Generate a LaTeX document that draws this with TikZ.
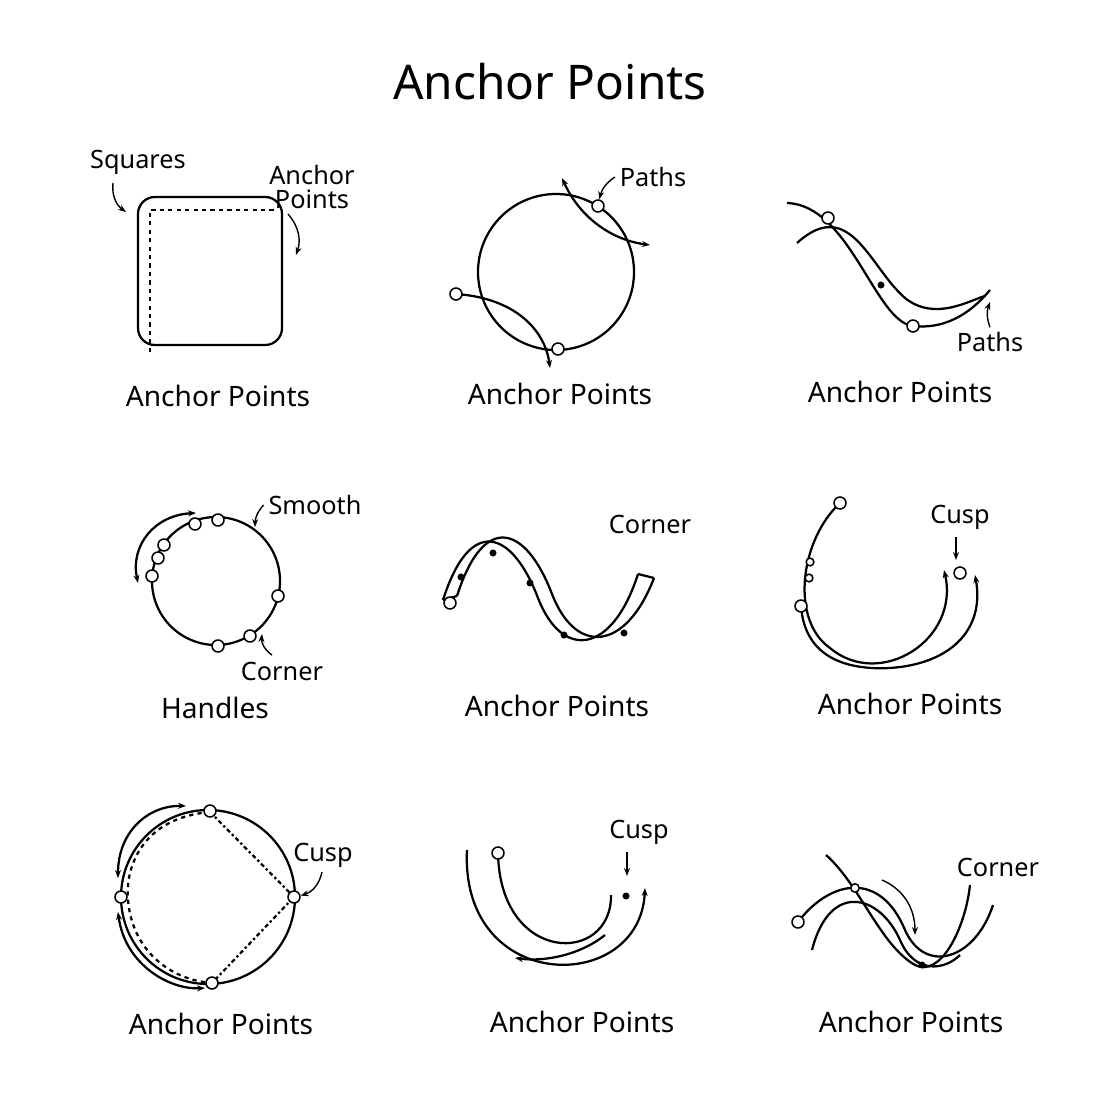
\documentclass[tikz,border=0pt]{standalone}
\usepackage{fontspec}
\setmainfont{Noto Sans}
\usetikzlibrary{arrows.meta, positioning}
\tikzset{
    stroke/.style={line width=1.6pt, black},
    anchorpt/.style={circle, draw=black, line width=1.1pt, fill=white, inner sep=0pt, minimum size=8.5pt},
    dotpt/.style={circle, fill=black, inner sep=0pt, minimum size=5pt},
    caption/.style={font=\fontsize{20}{22}\selectfont},
    callout/.style={font=\fontsize{18}{21}\selectfont, align=center},
    pointer/.style={-{Stealth[length=2mm]}, line width=1pt},
}
\begin{document}
\begin{tikzpicture}[x=0.25mm, y=-0.25mm]
    \useasboundingbox (0,0) rectangle (1100,1100);
    \node[font=\fontsize{34}{38}\selectfont] (title) at (550,82) {Anchor Points};

    % panel 1: squares
    \draw[stroke, rounded corners=12pt] (138,197) rectangle (282,345);
    \draw[stroke, dashed] (150,352) -- (150,210) -- (274,210);
    \node[callout] (sq) at (138,162) {Squares};
    \node[callout] (ap1) at (312,187) {Anchor\\[-4pt]Points};
    \draw[pointer] (113,183) to[bend right=30] (126,212);
    \draw[pointer] (288,214) to[bend left=30] (296,255);
    \node[caption] (c1) at (218,396) {Anchor Points};

    % panel 2: circle with paths
    \draw[stroke] (556,272) circle[radius=78];
    \draw[stroke, {Stealth[length=2mm]}-{Stealth[length=2mm]}] (562,178) .. controls (580,218) and (612,240) .. (650,245);
    \draw[stroke, -{Stealth[length=2mm]}] (456,294) .. controls (515,298) and (545,330) .. (550,368);
    \node[anchorpt] (p2a) at (598,206) {};
    \node[anchorpt] (p2b) at (456,294) {};
    \node[anchorpt] (p2c) at (558,349) {};
    \node[callout] (pa2) at (653,177) {Paths};
    \draw[pointer] (pa2.west) to[bend right=20] (p2a);
    \node[caption] (c2) at (560,394) {Anchor Points};

    % panel 3: two paths
    \draw[stroke] (787,203) .. controls (850,205) and (875,322) .. (913,326) .. controls (950,330) and (975,308) .. (990,290);
    \draw[stroke] (797,243) .. controls (850,195) and (870,268) .. (905,298) .. controls (935,322) and (970,300) .. (985,296);
    \node[anchorpt] (p3a) at (828,218) {};
    \node[anchorpt] (p3b) at (913,326) {};
    \node[dotpt] (d3) at (881,285) {};
    \node[callout] (pa3) at (990,342) {Paths};
    \draw[pointer] (pa3.north) to[bend left=20] (990,302);
    \node[caption] (c3) at (900,392) {Anchor Points};

    % panel 4: handles
    \draw[stroke] (216,581) circle[radius=64];
    \draw[stroke, {Stealth[length=2mm]}-{Stealth[length=2mm]}] (138,583) .. controls (130,545) and (155,515) .. (196,513);
    \foreach \px/\py [count=\i] in {218/520,195/524,164/545,158/558,152/576,278/596,218/646,250/636}
        \node[anchorpt] (h\i) at (\px,\py) {};
    \node[callout] (sm) at (315,505) {Smooth};
    \draw[pointer] (sm.west) to[bend right=20] (255,527);
    \node[callout] (co4) at (282,671) {Corner};
    \draw[pointer] (272,655) to[bend left=30] (262,634);
    \node[caption] (c4) at (215,708) {Handles};

    % panel 5: ribbon
    \draw[stroke] (443,600) .. controls (470,515) and (512,530) .. (538,598) .. controls (562,660) and (612,655) .. (638,574);
    \draw[stroke] (457,596) .. controls (484,511) and (526,526) .. (552,594) .. controls (576,656) and (626,651) .. (654,578);
    \draw[stroke] (638,574) -- (654,578);
    \draw[stroke] (443,600) -- (457,596);
    \foreach \px/\py [count=\i] in {461/577,493/553,530/583,564/635,624/633}
        \node[dotpt] (r\i) at (\px,\py) {};
    \node[anchorpt] (r0) at (450,603) {};
    \node[callout] (co5) at (650,524) {Corner};
    \node[caption] (c5) at (557,706) {Anchor Points};

    % panel 6: cusp
    \draw[stroke, -{Stealth[length=2mm]}] (840,503) .. controls (800,540) and (790,620) .. (830,648) .. controls (880,690) and (960,640) .. (944,570);
    \draw[stroke, -{Stealth[length=2mm]}] (801,606) .. controls (805,660) and (850,670) .. (890,668) .. controls (950,664) and (985,630) .. (975,575);
    \node[anchorpt] (u1) at (840,503) {};
    \node[anchorpt] (u2) at (801,606) {};
    \node[anchorpt, minimum size=5.5pt] (u3) at (810,562) {};
    \node[anchorpt, minimum size=5.5pt] (u4) at (809,578) {};
    \node[anchorpt] (u5) at (960,573) {};
    \node[callout] (cu6) at (960,517) {Cusp};
    \draw[pointer] (956,537) -- (956,560);
    \node[caption] (c6) at (910,704) {Anchor Points};

    % panel 7: circle with cusp
    \draw[stroke] (208,897) circle[radius=87];
    \draw[stroke, dashed] (210,812) .. controls (140,818) and (125,870) .. (128,900) .. controls (132,950) and (170,980) .. (212,983);
    \draw[stroke, dash dot] (210,812) -- (294,897) -- (212,983);
    \draw[stroke, {Stealth[length=2mm]}-{Stealth[length=2mm]}] (118,878) .. controls (118,830) and (150,805) .. (186,806);
    \draw[stroke, {Stealth[length=2mm]}-{Stealth[length=2mm]}] (118,912) .. controls (125,965) and (170,990) .. (205,988);
    \foreach \px/\py [count=\i] in {210/811,294/897,212/983,121/897}
        \node[anchorpt] (k\i) at (\px,\py) {};
    \node[callout] (cu7) at (323,855) {Cusp};
    \draw[pointer] (322,872) to[bend left=30] (k2);
    \node[caption] (c7) at (221,1024) {Anchor Points};

    % panel 8: u-turn
    \draw[stroke, -{Stealth[length=2mm]}] (467,850) .. controls (460,995) and (640,995) .. (645,888);
    \draw[stroke] (498,853) .. controls (500,965) and (612,965) .. (611,895);
    \draw[stroke, -{Stealth[length=2mm]}] (605,935) .. controls (580,955) and (545,962) .. (515,958);
    \node[anchorpt] (v1) at (498,853) {};
    \node[dotpt] (v2) at (626,896) {};
    \node[callout] (cu8) at (639,832) {Cusp};
    \draw[pointer] (627,852) -- (627,876);
    \node[caption] (c8) at (582,1022) {Anchor Points};

    % panel 9: crossing paths
    \draw[stroke] (798,922) .. controls (830,880) and (880,870) .. (905,930) .. controls (925,975) and (975,960) .. (993,905);
    \draw[stroke] (826,855) .. controls (860,885) and (880,945) .. (915,965) .. controls (940,978) and (965,930) .. (970,885);
    \draw[stroke] (812,950) .. controls (830,880) and (880,895) .. (900,940) .. controls (915,975) and (945,970) .. (960,955);
    \draw[pointer] (882,880) .. controls (905,890) and (915,910) .. (915,935);
    \node[anchorpt] (w1) at (798,922) {};
    \node[anchorpt, minimum size=6pt] (w2) at (855,888) {};
    \node[dotpt] (w3) at (922,965) {};
    \node[callout] (co9) at (998,867) {Corner};
    \node[caption] (c9) at (911,1022) {Anchor Points};
\end{tikzpicture}
\end{document}
